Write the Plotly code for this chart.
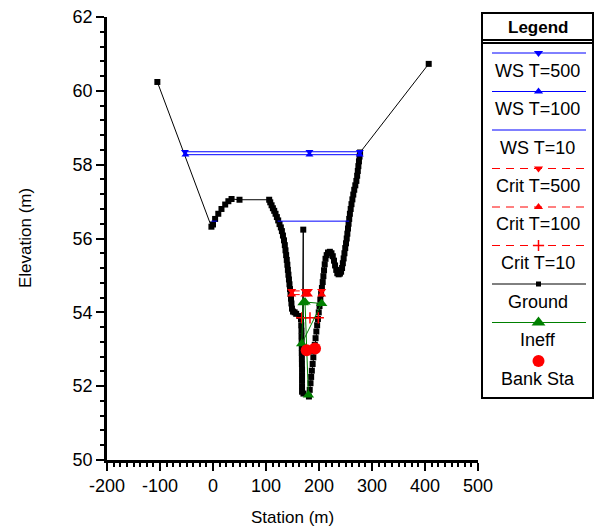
import plotly.graph_objects as go

# ---------------- cross-section data (station m, elevation m) ----------------
ground_sta = [
    -105, -3, 0, 4, 10, 16, 23, 29, 35, 50,
    106, 108, 110.5, 113, 115.5, 118, 120.5, 123, 125.5, 128, 130, 132, 134,
    135.5, 136.8, 138, 139.2, 140.3, 141.3, 142.3, 143.3, 144.3, 145.3, 146.3,
    147.2, 148, 149, 151, 154, 157, 163, 166, 166.5, 167, 167, 167.3, 167.5,
    167.5, 167.7, 167.8, 168, 168, 168, 168, 168, 170.3, 170.6,
    181, 182.5, 184, 185.2, 186.5, 188, 189.3, 190.7, 192, 193.5, 195, 196.5,
    198, 199.5, 201, 202.5, 204, 205.5, 207, 208.3, 209.5, 210.8, 212.3, 214.5,
    217, 220.5, 223.5, 226, 228.3, 230.3, 232.5, 234.5, 237, 239.5, 241.7,
    243.5, 245, 246.5, 248, 249.5, 251, 252.3, 253.5, 254.7, 255.8, 257,
    258.3, 259.8, 261.3, 263, 264.7, 266.5, 268.5, 270.5, 272, 273.2, 274.3,
    275.4, 276.5, 277.5, 407,
]
ground_elev = [
    60.24, 56.32, 56.38, 56.53, 56.67, 56.8, 56.92, 57.01, 57.07, 57.05,
    57.05, 56.98, 56.9, 56.82, 56.75, 56.67, 56.58, 56.49, 56.39, 56.3, 56.2,
    56.08, 55.95, 55.82, 55.68, 55.55, 55.42, 55.29, 55.15, 55.02, 54.89,
    54.76, 54.63, 54.5, 54.37, 54.24, 54.1, 54.02, 54.0, 53.96, 53.9, 53.82,
    53.65, 53.5, 53.35, 53.2, 53.05, 52.9, 52.75, 52.6, 52.45, 52.3, 52.15,
    52.0, 51.85, 56.24, 51.8,
    51.72, 51.9, 52.08, 52.25, 52.42, 52.6, 52.78, 52.95, 53.12, 53.3, 53.48,
    53.65, 53.82, 54.0, 54.17, 54.34, 54.5, 54.66, 54.82, 54.98, 55.14, 55.3,
    55.45, 55.55, 55.62, 55.64, 55.6, 55.52, 55.4, 55.27, 55.15, 55.06, 55.03,
    55.05, 55.1, 55.2, 55.33, 55.46, 55.6, 55.74, 55.87, 56.0, 56.13, 56.27,
    56.4, 56.53, 56.67, 56.8, 56.93, 57.06, 57.19, 57.32, 57.44, 57.56, 57.7,
    57.83, 57.96, 58.09, 58.22, 58.33, 60.73,
]

ws500_sta = [-53, 182, 277]
ws500_elev = [58.35, 58.35, 58.35]
ws100_sta = [-52, 182, 277]
ws100_elev = [58.27, 58.27, 58.27]
ws10_sta = [-3, 8, None, 122, 257]
ws10_elev = [56.47, 56.47, None, 56.47, 56.47]

crit500_sta = [148.5, 173.6, 180, None, 205]
crit500_elev = [54.58, 54.58, 54.58, None, 54.58]
crit100_sta = [148.5, 173.6, 180, None, 205]
crit100_elev = [54.48, 54.48, 54.48, None, 54.48]
crit10_sta = [167.4, 183, 198.7]
crit10_elev = [53.85, 53.85, 53.85]

ineff_sta = [180, 173.6, 205, 167.4, 170]
ineff_elev = [51.76, 54.28, 54.24, 53.15, 54.26]

bank_sta = [176.8, 192.5]
bank_elev = [52.97, 53.02]

x_ticks = [-200, -100, 0, 100, 200, 300, 400, 500]
y_ticks = [50, 52, 54, 56, 58, 60, 62]

# ---------------- styling ----------------
FONT = "Liberation Sans, Arial, sans-serif"
BLUE, RED, GREEN, BLACK = "#0000ff", "#ff0000", "#008000", "#000000"
DASH = "8px,6px"

series = [
    dict(name="WS T=500", x=ws500_sta, y=ws500_elev, color=BLUE, dash="solid",
         symbol="triangle-down", size=7, lsize=8),
    dict(name="WS T=100", x=ws100_sta, y=ws100_elev, color=BLUE, dash="solid",
         symbol="triangle-up", size=7, lsize=8),
    dict(name="WS T=10", x=ws10_sta, y=ws10_elev, color=BLUE, dash="solid",
         symbol=None, size=0, lsize=0),
    dict(name="Crit T=500", x=crit500_sta, y=crit500_elev, color=RED, dash=DASH,
         symbol="triangle-down", size=8, lsize=8),
    dict(name="Crit T=100", x=crit100_sta, y=crit100_elev, color=RED, dash=DASH,
         symbol="triangle-up", size=8, lsize=8),
    dict(name="Crit T=10", x=crit10_sta, y=crit10_elev, color=RED, dash=DASH,
         symbol="cross-thin", size=8, lsize=8),
    dict(name="Ground", x=ground_sta, y=ground_elev, color=BLACK, dash="solid",
         symbol="square", size=6, lsize=5),
    dict(name="Ineff", x=ineff_sta, y=ineff_elev, color=GREEN, dash="solid",
         symbol="triangle-up", size=10, lsize=12),
    dict(name="Bank Sta", x=bank_sta, y=bank_elev, color=RED, dash=None,
         symbol="circle", size=12, lsize=12),
]

# figure geometry in pixels
W, H = 596, 529
PL, PR, PT, PB = 107, 478, 17, 460          # plot frame
LL, LR, LT, LB = 482, 593, 13, 398          # legend box


def fx(px):
    return px / W


def fy(py):
    return 1 - py / H


def marker_of(s, size):
    if s["symbol"] is None:
        return None
    m = dict(symbol=s["symbol"], size=size, color=s["color"])
    if s["symbol"] == "cross-thin":
        m["line"] = dict(color=s["color"], width=1.5)
    else:
        m["line"] = dict(width=0)
    return m


fig = go.Figure()

# data traces: ground first, then water surfaces, critical, ineff and banks
draw_order = [6, 0, 1, 2, 3, 4, 5, 7, 8]
for i in draw_order:
    s = series[i]
    mode = "lines" if s["symbol"] is None else ("markers" if s["dash"] is None else "lines+markers")
    kw = dict(x=s["x"], y=s["y"], mode=mode, name=s["name"], showlegend=False,
              xaxis="x", yaxis="y", hoverinfo="x+y+name")
    if s["dash"] is not None:
        kw["line"] = dict(color=s["color"], width=1, dash=s["dash"])
    m = marker_of(s, s["size"])
    if m:
        kw["marker"] = m
    fig.add_trace(go.Scatter(**kw))

# legend panel drawn on its own pixel-scaled axes
ITEM0, STEP, TXT_OFF = 53, 38.5, 17.5
legend_cx = (LL + LR) / 2
annotations = []
for k, s in enumerate(series):
    ly = ITEM0 + k * STEP
    if s["dash"] is not None:
        fig.add_trace(go.Scatter(x=[492, 586], y=[ly, ly], mode="lines",
                                 line=dict(color=s["color"], width=1, dash=s["dash"]),
                                 xaxis="x2", yaxis="y2", showlegend=False, hoverinfo="skip"))
    m = marker_of(s, s["lsize"])
    if m:
        fig.add_trace(go.Scatter(x=[legend_cx + 1], y=[ly], mode="markers", marker=m,
                                 xaxis="x2", yaxis="y2", showlegend=False, hoverinfo="skip"))
    annotations.append(dict(x=fx(legend_cx), y=fy(ly + TXT_OFF), xref="paper", yref="paper",
                            text=s["name"], showarrow=False, xanchor="center", yanchor="middle",
                            font=dict(family=FONT, size=18, color=BLACK)))

annotations.append(dict(x=fx(legend_cx), y=fy(27), xref="paper", yref="paper",
                        text="<b>Legend</b>", showarrow=False, xanchor="center",
                        yanchor="middle", font=dict(family=FONT, size=17, color=BLACK)))
annotations.append(dict(x=fx(292), y=fy(517), xref="paper", yref="paper",
                        text="Station (m)", showarrow=False, xanchor="center",
                        yanchor="middle", font=dict(family=FONT, size=17, color=BLACK)))
annotations.append(dict(x=fx(25), y=fy(238), xref="paper", yref="paper",
                        text="Elevation (m)", showarrow=False, textangle=-90,
                        xanchor="center", yanchor="middle",
                        font=dict(family=FONT, size=17, color=BLACK)))

shapes = [
    dict(type="rect", xref="paper", yref="paper", x0=fx(LL), x1=fx(LR), y0=fy(LT), y1=fy(LB),
         line=dict(color=BLACK, width=2), fillcolor="rgba(0,0,0,0)", layer="below"),
    dict(type="line", xref="paper", yref="paper", x0=fx(LL), x1=fx(LR), y0=fy(40), y1=fy(40),
         line=dict(color=BLACK, width=2)),
    dict(type="line", xref="paper", yref="paper", x0=fx(LL), x1=fx(LR), y0=fy(43), y1=fy(43),
         line=dict(color=BLACK, width=2)),
]

axis_common = dict(showgrid=False, zeroline=False, showline=True, linecolor=BLACK,
                   linewidth=2.5, ticks="outside", ticklen=8, tickwidth=2,
                   tickcolor=BLACK, tickfont=dict(family=FONT, size=18, color=BLACK),
                   fixedrange=True, mirror=False, automargin=False)

fig.update_layout(
    width=W, height=H,
    margin=dict(l=0, r=0, t=0, b=0, pad=0),
    paper_bgcolor="white", plot_bgcolor="white",
    showlegend=False,
    font=dict(family=FONT, color=BLACK),
    xaxis=dict(domain=[fx(PL), fx(PR)], range=[-200, 500], anchor="y",
               tickmode="array", tickvals=x_ticks, ticktext=[str(v) for v in x_ticks],
               minor=dict(dtick=12.5, tick0=-200, ticks="outside", ticklen=4,
                          tickwidth=1.5, tickcolor=BLACK, showgrid=False),
               **axis_common),
    yaxis=dict(domain=[fy(PB), fy(PT)], range=[50, 62], anchor="x",
               tickmode="array", tickvals=y_ticks, ticktext=[str(v) for v in y_ticks],
               minor=dict(dtick=0.4, tick0=50, ticks="outside", ticklen=4,
                          tickwidth=1.5, tickcolor=BLACK, showgrid=False),
               **axis_common),
    xaxis2=dict(domain=[fx(LL), fx(LR)], range=[LL, LR], anchor="y2", visible=False,
                fixedrange=True, automargin=False),
    yaxis2=dict(domain=[fy(LB), fy(LT)], range=[LB, LT], anchor="x2", visible=False,
                fixedrange=True, automargin=False),
    annotations=annotations,
    shapes=shapes,
)

fig.write_html("out.html")
